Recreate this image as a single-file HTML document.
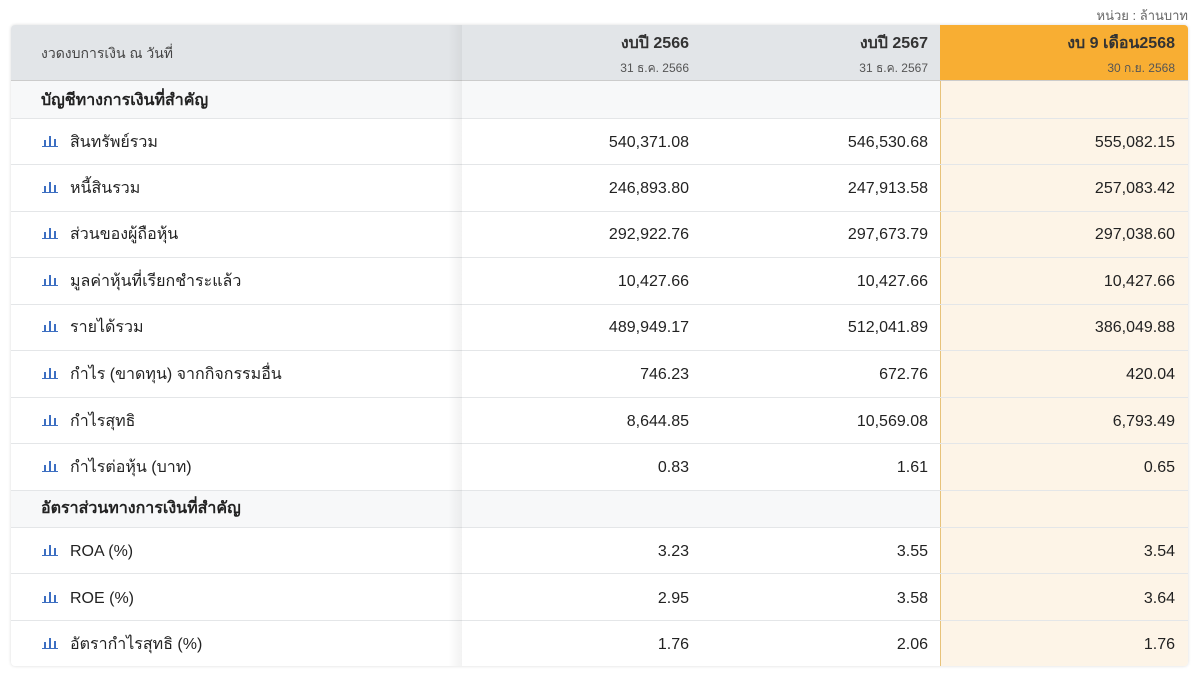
<!DOCTYPE html>
<html><head><meta charset="utf-8"><style>
body{margin:0;width:1200px;height:675px;background:#fff;font-family:"Liberation Sans","Noto Sans CJK SC",sans-serif;position:relative;overflow:hidden;color:#222}
.unit{position:absolute;right:12px;top:5px;font-size:13px;color:#666}
.tbl{position:absolute;left:11px;top:25px;width:1177px;height:641px;border-radius:4px;overflow:hidden;box-shadow:0 0 3px rgba(0,0,0,.15)}
.hdr{position:absolute;left:0;top:0;width:1177px;height:55px;background:#e2e5e8}
.org{position:absolute;left:929px;top:0;width:248px;height:55px;background:#f8ae33}
.cream{position:absolute;left:929px;top:55px;width:248px;height:586px;background:#fdf4e7;border-left:1px solid #e7c27a}
.sec{position:absolute;left:0;width:929px;background:#f7f8f9}
.line{position:absolute;left:0;width:1177px;height:1px;background:#e4e6e8}
.shadow{position:absolute;left:437px;top:0;width:14px;height:641px;background:linear-gradient(to right,rgba(0,0,0,0),rgba(0,0,0,.05))}
.t{position:absolute;white-space:nowrap;font-size:16px;line-height:20px}
.r{text-align:right}
.ic{position:absolute;width:16px;height:12px}
</style></head><body>
<div class="unit">หน่วย : ล้านบาท</div>
<div class="tbl">
<div class="hdr"></div><div class="org"></div><div class="cream"></div>
<div class="sec" style="top:55px;height:38px"></div>
<div class="sec" style="top:465px;height:37px"></div>
<div class="line" style="top:55px;background:#ccc"></div>
<div class="line" style="top:93px"></div><div class="line" style="top:139px"></div><div class="line" style="top:186px"></div><div class="line" style="top:232px"></div><div class="line" style="top:279px"></div><div class="line" style="top:325px"></div><div class="line" style="top:372px"></div><div class="line" style="top:418px"></div><div class="line" style="top:465px"></div><div class="line" style="top:502px"></div><div class="line" style="top:548px"></div><div class="line" style="top:595px"></div>
<div class="shadow"></div>
</div>
<div id="c"></div>
<script>
var H='';
function t(x,y,s,st){H+='<div class="t" style="left:'+x+'px;top:'+(y-8)+'px;'+(st||'')+'">'+s+'</div>';}
function r(x,y,s,st){H+='<div class="t r" style="right:'+(1200-x)+'px;top:'+(y-8)+'px;'+(st||'')+'">'+s+'</div>';}
t(41,51,'งวดงบการเงิน ณ วันที่','font-size:14px;color:#444');
r(689,42,'งบปี 2566','font-weight:bold;font-size:16px;color:#333');
r(928,42,'งบปี 2567','font-weight:bold;font-size:16px;color:#333');
r(1175,42,'งบ 9 เดือน2568','font-weight:bold;font-size:16px;color:#333');
r(689,66,'31 ธ.ค. 2566','font-size:12px;color:#555');
r(928,66,'31 ธ.ค. 2567','font-size:12px;color:#555');
r(1175,66,'30 ก.ย. 2568','font-size:12px;color:#555');
t(41,99,'บัญชีทางการเงินที่สำคัญ','font-weight:bold');
t(41,507,'อัตราส่วนทางการเงินที่สำคัญ','font-weight:bold');
var rows=[[141,'สินทรัพย์รวม','540,371.08','546,530.68','555,082.15'],[187,'หนี้สินรวม','246,893.80','247,913.58','257,083.42'],[233,'ส่วนของผู้ถือหุ้น','292,922.76','297,673.79','297,038.60'],[280,'มูลค่าหุ้นที่เรียกชำระแล้ว','10,427.66','10,427.66','10,427.66'],[326,'รายได้รวม','489,949.17','512,041.89','386,049.88'],[373,'กำไร (ขาดทุน) จากกิจกรรมอื่น','746.23','672.76','420.04'],[420,'กำไรสุทธิ','8,644.85','10,569.08','6,793.49'],[466,'กำไรต่อหุ้น (บาท)','0.83','1.61','0.65'],[550,'ROA (%)','3.23','3.55','3.54'],[597,'ROE (%)','2.95','3.58','3.64'],[643,'อัตรากำไรสุทธิ (%)','1.76','2.06','1.76']];
rows.forEach(function(a){var y=a[0];
H+='<svg class="ic" style="left:42px;top:'+(y-6)+'px" width="16" height="13"><rect x="2" y="5" width="2" height="6" fill="#3d6fc2"/><rect x="7" y="1" width="2" height="10" fill="#3d6fc2"/><rect x="12" y="4" width="2" height="7" fill="#3d6fc2"/><rect x="0" y="11" width="16" height="1.5" fill="#3d6fc2"/></svg>';
t(70,y,a[1]);r(689,y,a[2]);r(928,y,a[3]);r(1175,y,a[4]);});
document.getElementById('c').innerHTML=H;
</script>
</body></html>
